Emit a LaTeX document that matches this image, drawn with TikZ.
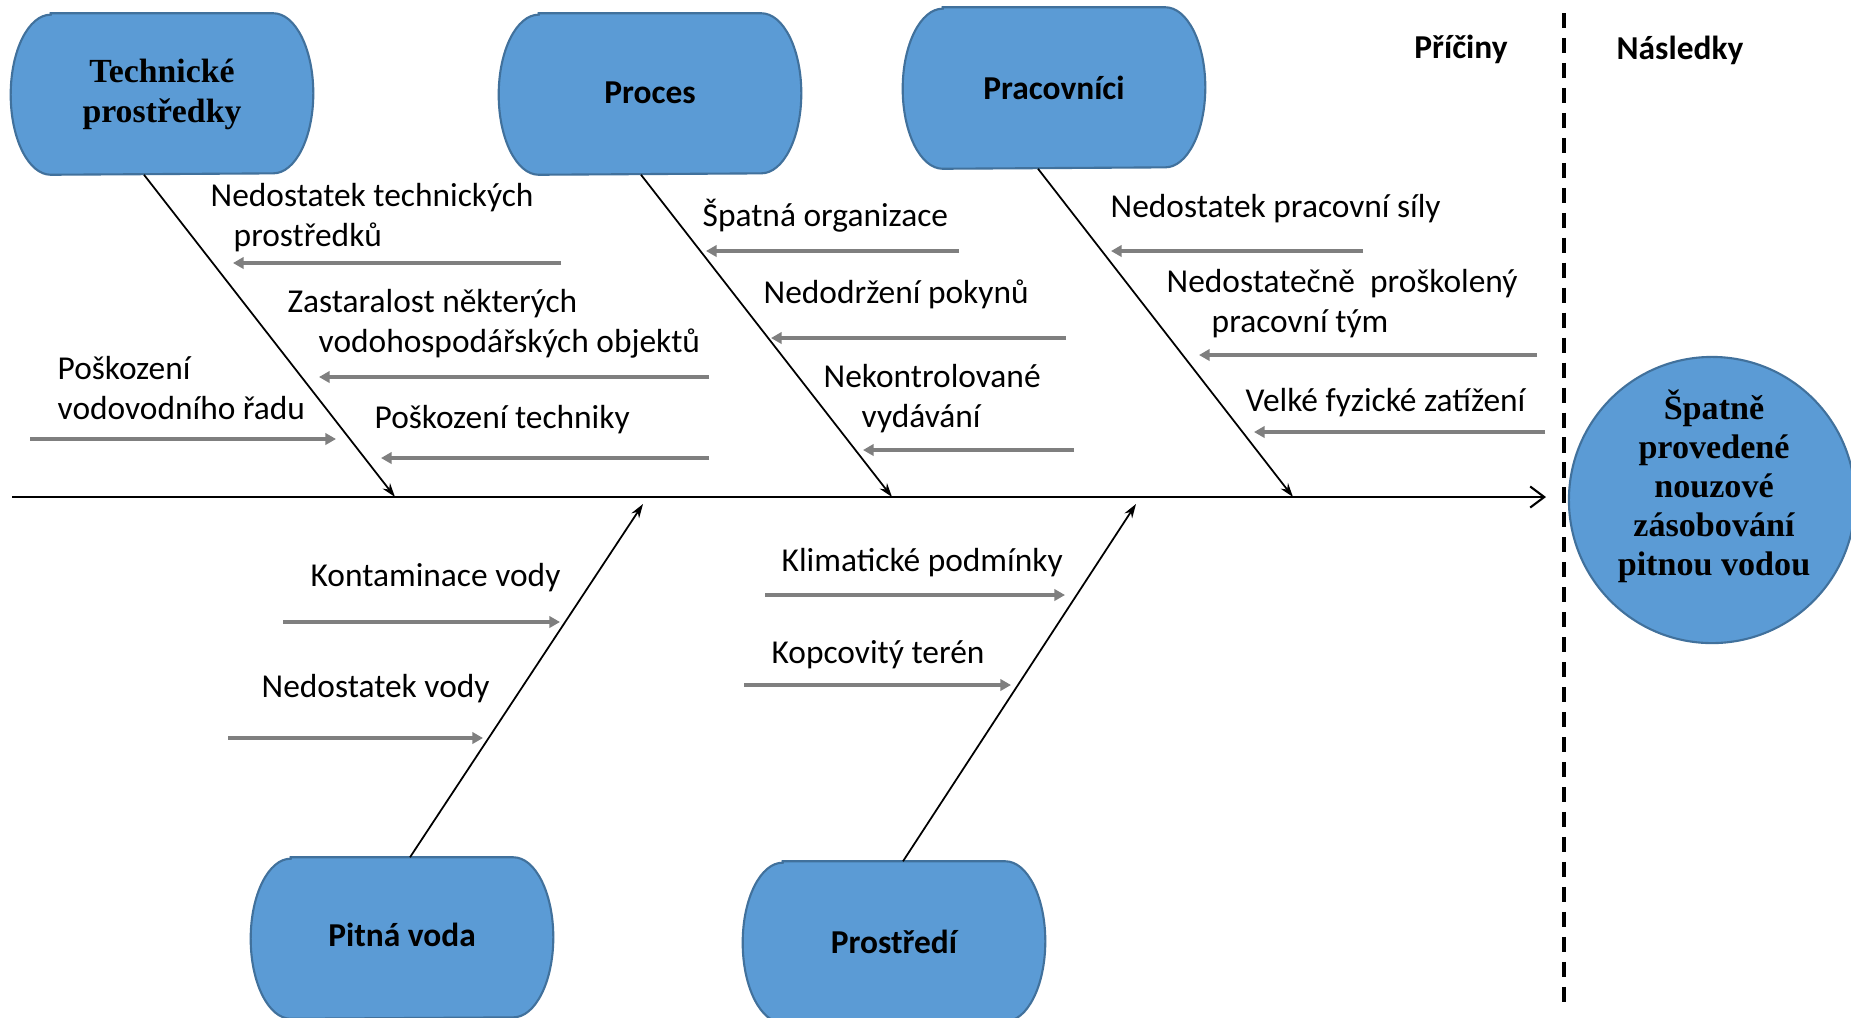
\documentclass[tikz,border=0pt]{standalone}
\usepackage{fontspec}
\setmainfont{Carlito}
\newfontfamily\timesfont{Liberation Serif}
\usetikzlibrary{arrows.meta,calc,backgrounds}
\definecolor{boxfill}{HTML}{5B9BD5}
\definecolor{boxline}{HTML}{41719C}
\definecolor{causegray}{HTML}{7F7F7F}
\begin{document}
\begin{tikzpicture}[x=0.01cm,y=-0.01cm,
 boxlabel/.style={minimum width=3.01cm,minimum height=1.6cm,inner sep=0pt,align=center,font=\fontsize{9.5}{11.4}\selectfont\bfseries},
 serifbox/.style={boxlabel,font=\timesfont\fontsize{9.6}{11.4}\selectfont\bfseries},
 boxshape/.style={fill=boxfill,draw=boxline,line width=0.6pt},
 lbl/.style={anchor=west,inner sep=0pt,align=left,font=\fontsize{9.5}{11.4}\selectfont},
 cause/.style={draw=causegray,line width=0.9pt,-{Triangle[length=3pt,width=3.2pt]}},
 bone/.style={draw=black,line width=0.5pt,-{Stealth[length=4pt,width=2.6pt]}},
 spine/.style={draw=black,line width=0.6pt,-{Straight Barb[length=4pt,width=6pt]}},
 head/.style={inner sep=0pt,font=\fontsize{9.5}{11.4}\selectfont\bfseries}
]
\useasboundingbox (0,0) rectangle (1851,1017);
\clip (0,0) rectangle (1851,1017);

% category boxes
\node[serifbox] (tech) at (162,94) {Technické\\prostředky};
\node[boxlabel] (proc) at (650,94) {\raisebox{0.02cm}{Proces}};
\node[boxlabel] (prac) at (1054,88) {Pracovníci};
\node[boxlabel] (pit) at (402,938) {\raisebox{0.07cm}{Pitná voda}};
\node[boxlabel] (pros) at (894,942) {Prostředí};

\begin{pgfonlayer}{background}
\fill[white] (0,0) rectangle (1851,1017);
\foreach \n in {tech,proc,prac,pit,pros}{
  \draw[boxshape] ($(\n.north west)+(40,0)$) -- ($(\n.north east)+(-40,0)$)
    arc[start angle=90,end angle=-90,x radius=0.4cm,y radius=0.8cm]
    -- ($(\n.south west)+(40,0)$)
    arc[start angle=270,end angle=90,x radius=0.4cm,y radius=0.8cm] -- cycle;
}
\end{pgfonlayer}

% effect
\node[circle,boxshape,minimum size=2.86cm,inner sep=0pt] (eff) at (1712,500) {};
\node[align=center,inner sep=0pt,font=\timesfont\fontsize{9.7}{11.1}\selectfont\bfseries]
  (efftxt) at ($(eff.center)+(2,-14)$) {Špatně\\provedené\\nouzové\\zásobování\\pitnou vodou};

% divider and headings
\coordinate (dT) at (1564,13);
\coordinate (dB) at (1564,1009);
\draw[black,line width=1.1pt,dash pattern=on 4.3pt off 2.8pt] (dT) -- (dB);
\node[head] (pric) at (1461,49) {Příčiny};
\node[head] (nasl) at (1680,50) {Následky};

% spine
\coordinate (spL) at (12,497);
\coordinate (spR) at (1546,497);
\draw[spine] (spL) -- (spR);

% bones
\coordinate (b1) at (395,497);
\coordinate (b2) at (892,497);
\coordinate (b3) at (1293,497);
\coordinate (b4) at (643,504);
\coordinate (b5) at (1136,504);
\draw[bone] ($(tech.south)+(-18,0)$) -- (b1);
\draw[bone] ($(proc.south)+(-9,0)$) -- (b2);
\draw[bone] ($(prac.south)+(-16,0)$) -- (b3);
\draw[bone] ($(pit.north)+(8,0)$) -- (b4);
\draw[bone] ($(pros.north)+(9,0)$) -- (b5);

% cause labels
\node[lbl] (t1) at (210,218) {Nedostatek technických\\\hspace*{0.23cm}prostředků};
\node[lbl] (t2) at (287,324) {Zastaralost některých\\\hspace*{0.31cm}vodohospodářských objektů};
\node[lbl] (t3) at (374,420) {Poškození techniky};
\node[lbl] (t4) at (57,388) {Poškození\\vodovodního řadu};
\node[lbl] (t5) at (702,216) {Špatná organizace};
\node[lbl] (t6) at (763,294) {Nedodržení pokynů};
\node[lbl] (t7) at (823,399) {Nekontrolované\\\hspace*{0.38cm}vydávání};
\node[lbl] (t8) at (1110,209) {Nedostatek pracovní síly};
\node[lbl] (t9) at (1166,304) {Nedostatečně\ \ proškolený\\\hspace*{0.45cm}pracovní tým};
\node[lbl] (t10) at (1245,403) {Velké fyzické zatížení};
\node[lbl] (t11) at (310,578) {Kontaminace vody};
\node[lbl] (t12) at (261,689) {Nedostatek vody};
\node[lbl] (t13) at (781,563) {Klimatické podmínky};
\node[lbl] (t14) at (771,655) {Kopcovitý terén};

% cause arrows
\coordinate (c1a) at (561,263);  \coordinate (c1b) at (233,263);
\coordinate (c2a) at (709,377);  \coordinate (c2b) at (319,377);
\coordinate (c3a) at (709,458);  \coordinate (c3b) at (381,458);
\coordinate (c4a) at (30,439);   \coordinate (c4b) at (336,439);
\coordinate (c5a) at (959,251);  \coordinate (c5b) at (706,251);
\coordinate (c6a) at (1066,338); \coordinate (c6b) at (771,338);
\coordinate (c7a) at (1074,450); \coordinate (c7b) at (863,450);
\coordinate (c8a) at (1363,251); \coordinate (c8b) at (1111,251);
\coordinate (c9a) at (1537,355); \coordinate (c9b) at (1199,355);
\coordinate (c10a) at (1545,432); \coordinate (c10b) at (1254,432);
\coordinate (c11a) at (283,622); \coordinate (c11b) at (560,622);
\coordinate (c12a) at (228,738); \coordinate (c12b) at (483,738);
\coordinate (c13a) at (765,595); \coordinate (c13b) at (1065,595);
\coordinate (c14a) at (744,685); \coordinate (c14b) at (1011,685);
\foreach \i in {1,...,14}{\draw[cause] (c\i a) -- (c\i b);}
\end{tikzpicture}
\end{document}
